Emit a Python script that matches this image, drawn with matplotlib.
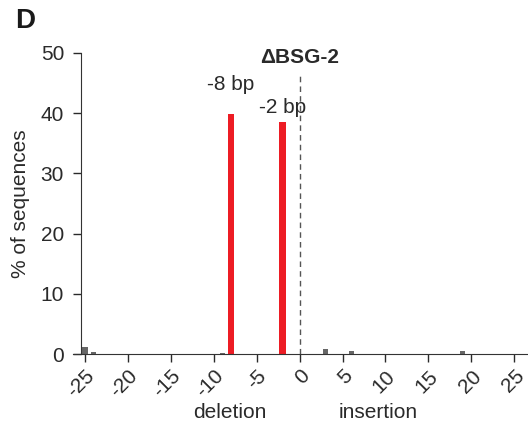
import numpy as np
import matplotlib.pyplot as plt

plt.rcParams['font.family'] = ['Liberation Sans', 'DejaVu Sans']
plt.rcParams['axes.unicode_minus'] = False

# indel sizes (bp) and % of sequences
red_sizes = [-8, -2]
red_values = [39.8, 38.6]
red_labels = ['-8 bp', '-2 bp']
grey_sizes = [-25, -24, -9, 3, 6, 19]
grey_values = [1.2, 0.3, 0.2, 0.8, 0.5, 0.5]
xticks = [-25, -20, -15, -10, -5, 0, 5, 10, 15, 20, 25]
yticks = [0, 10, 20, 30, 40, 50]

txt = '#2a2a2a'
fs = 15
fig = plt.figure(figsize=(5.28, 4.33), dpi=100)
ax = fig.add_axes([73 / 528, 1 - 354 / 433, 1 - 73 / 528, (354 - 53) / 433])

ax.bar(grey_sizes, grey_values, width=0.6, color='#666666', zorder=2)
ax.bar(red_sizes, red_values, width=0.8, color='#ed1c24', zorder=2)
ax.axvline(0, ymin=0, ymax=0.93, color='#555555', lw=1, ls=(0, (4, 3)), zorder=1)

ax.text(red_sizes[0], red_values[0] + 3.4, red_labels[0], ha='center', va='bottom', fontsize=fs, color=txt)
ax.text(red_sizes[1], red_values[1] + 0.8, red_labels[1], ha='center', va='bottom', fontsize=fs, color=txt)
ax.text(0, 47.6, '\u0394BSG-2', ha='center', va='bottom', fontsize=fs, fontweight='bold', color=txt)

ax.set_xlim(-26.4, 26.6)
ax.set_ylim(0, 50)
ax.set_xticks(xticks)
ax.set_xticklabels([str(t) for t in xticks], rotation=45, ha='right', rotation_mode='anchor')
ax.set_yticks(yticks)
ax.tick_params(axis='both', labelsize=fs, colors=txt, length=6, width=1)
ax.tick_params(axis='x', pad=3)
ax.tick_params(axis='y', pad=6)

for s in ['top', 'right']:
    ax.spines[s].set_visible(False)
ax.spines['left'].set_position(('data', -25.5))
ax.spines['left'].set_color('#333333')
ax.spines['bottom'].set_color('#333333')

ax.set_ylabel('% of sequences', fontsize=fs, color=txt, labelpad=8)
fig.text(230 / 528, 1 - 413 / 433, 'deletion', ha='center', va='center', fontsize=fs, color=txt)
fig.text(378 / 528, 1 - 413 / 433, 'insertion', ha='center', va='center', fontsize=fs, color=txt)
fig.text(15 / 528, 1 - 21 / 433, 'D', ha='left', va='center', fontsize=20, fontweight='bold', color='#1a1a1a')

fig.savefig('out.png', dpi=100)
